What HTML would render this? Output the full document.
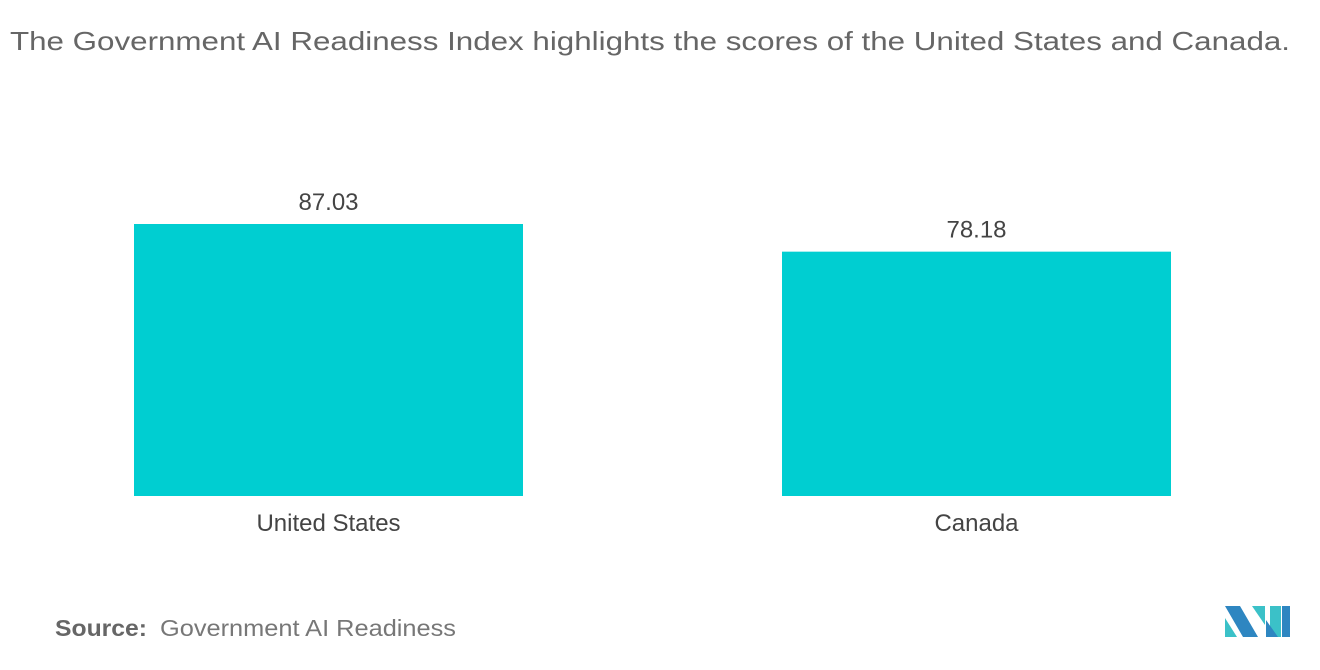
<!DOCTYPE html>
<html><head><meta charset="utf-8"><style>
body{margin:0;width:1320px;height:665px;background:#fff;font-family:"Liberation Sans",sans-serif;overflow:hidden}
</style></head><body>
<svg width="1320" height="665" xmlns="http://www.w3.org/2000/svg">
<text x="10" y="50" font-size="26" fill="#666" textLength="1280" lengthAdjust="spacingAndGlyphs">The Government AI Readiness Index highlights the scores of the United States and Canada.</text>
<g id="bars"></g>
<text x="55" y="636" font-size="23" fill="#666" font-weight="bold" textLength="92" lengthAdjust="spacingAndGlyphs">Source:</text>
<text x="160" y="636" font-size="23" fill="#777" textLength="296" lengthAdjust="spacingAndGlyphs">Government AI Readiness</text>
<g>
<polygon points="1225,606 1240,606 1258,637 1243,637" fill="#2e86c1"/>
<polygon points="1225,618 1237,637 1225,637" fill="#3bc1c8"/>
<polygon points="1252,606 1265,606 1265,625" fill="#3bc1c8"/>
<polygon points="1270,606 1281,606 1281,637 1270,637" fill="#3bc1c8"/>
<polygon points="1282,606 1290,606 1290,637 1282,637" fill="#2e86c1"/>
<polygon points="1266,620 1278,637 1266,637" fill="#2e86c1"/>
</g>
</svg>
<script>
const categories=["United States","Canada"];
const values=[87.03,78.18];
const labels=["87.03","78.18"];
const g=document.getElementById('bars');
const ns="http://www.w3.org/2000/svg";
const baseY=496, scale=272/87.03;
const y=v=>baseY-v*scale;
const xs=[134,782], w=389;
categories.forEach((c,i)=>{
  const r=document.createElementNS(ns,'rect');
  r.setAttribute('x',xs[i]);r.setAttribute('y',y(values[i]));
  r.setAttribute('width',w);r.setAttribute('height',baseY-y(values[i]));
  r.setAttribute('fill','#00ced1');
  
  
  g.appendChild(r);
  const t=document.createElementNS(ns,'text');
  t.setAttribute('x',xs[i]+w/2);t.setAttribute('y',y(values[i])-14);
  t.setAttribute('text-anchor','middle');t.setAttribute('font-size','24');t.setAttribute('fill','#444');
  t.textContent=labels[i];
  
  
  g.appendChild(t);
  const l=document.createElementNS(ns,'text');
  l.setAttribute('x',xs[i]+w/2);l.setAttribute('y',531);
  l.setAttribute('text-anchor','middle');l.setAttribute('font-size','24');l.setAttribute('fill','#444');
  l.textContent=c;
  
  
  g.appendChild(l);
});
</script>
</body></html>
